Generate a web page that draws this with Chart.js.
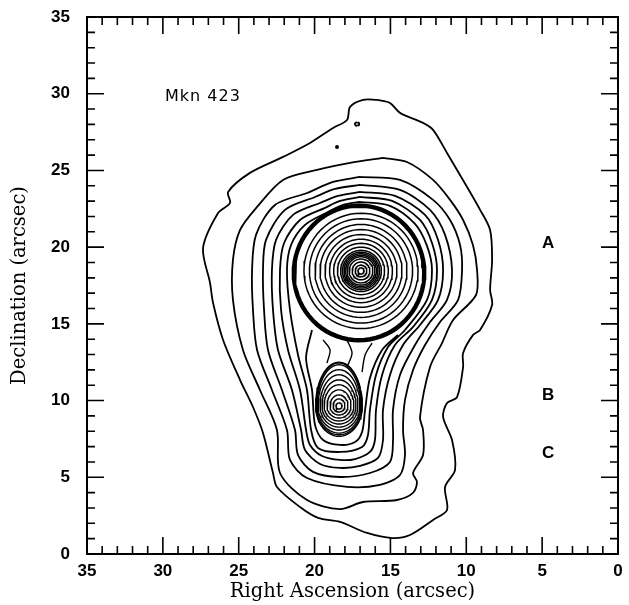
<!DOCTYPE html>
<html>
<head>
<meta charset="utf-8">
<script src="https://cdn.jsdelivr.net/npm/chart.js@4.4.1/dist/chart.umd.min.js"></script>
<style>
  html, body { margin: 0; padding: 0; background: #fff; }
  #wrap { width: 629px; height: 605px; }
</style>
</head>
<body>
<div id="wrap"><canvas id="contourChart"></canvas></div>
<script>
// axis range (arcsec), ticks every 5
const axisMin = 0;
const axisMax = 35;
const tickStep = 5;

// outer isophotes, [RA, Dec] in arcsec (outermost first)
const contour1 = [[15.88,29.60],[15.03,29.40],[14.37,28.75],[12.85,28.10],[12.19,27.64],[11.27,26.14],[9.95,23.92],[9.09,22.43],[8.43,21.12],[8.30,19.17],[8.43,17.21],[8.30,16.23],[9.09,14.60],[9.55,14.28],[10.21,13.10],[10.21,12.19],[10.61,10.23],[11.27,9.84],[11.53,8.93],[10.94,7.43],[10.74,5.48],[11.40,4.37],[11.27,2.87],[12.19,2.22],[13.71,1.24],[14.90,1.04],[16.54,1.37],[18.32,2.09],[19.77,2.35],[20.96,3.06],[22.48,4.37],[22.74,5.28],[23.40,7.89],[24.06,9.58],[24.91,11.34],[26.03,13.95],[26.69,16.36],[26.89,17.67],[27.35,19.95],[26.36,22.23],[25.57,22.88],[25.70,23.60],[24.26,24.84],[22.08,25.88],[20.30,26.79],[18.78,27.77],[17.86,28.29],[17.66,29.14],[16.80,29.60]];
const contour2 = [[15.49,25.82],[13.91,25.55],[12.19,24.38],[11.07,23.08],[10.21,21.77],[9.56,20.14],[9.29,18.51],[9.36,16.88],[10.87,15.25],[11.60,13.75],[12.39,12.19],[13.05,8.93],[12.85,8.08],[12.85,6.45],[13.51,5.28],[13.25,4.69],[13.51,3.98],[14.57,3.52],[16.81,3.39],[18.32,2.93],[20.50,3.52],[22.28,5.28],[22.48,8.08],[23.60,10.69],[24.72,13.30],[25.38,16.56],[25.38,19.17],[24.91,21.12],[23.79,22.62],[22.08,24.38],[19.84,25.03],[17.66,25.49]];
const contour3 = [[17.00,24.58],[14.37,24.38],[12.19,23.08],[11.07,21.77],[10.41,20.14],[10.28,18.51],[10.54,16.56],[11.73,15.12],[12.72,13.62],[13.51,11.99],[14.04,10.04],[14.17,8.08],[14.04,6.45],[14.37,5.15],[15.69,4.50],[17.86,4.37],[20.50,4.95],[21.62,6.13],[21.82,8.08],[22.81,10.69],[23.79,13.30],[24.06,15.91],[24.12,18.51],[23.86,20.80],[22.61,22.75],[20.50,23.53],[18.78,24.25]];
const contour4 = [[17.00,24.06],[14.37,23.73],[12.39,22.43],[11.40,20.80],[10.94,18.51],[11.27,16.56],[12.39,15.12],[13.38,13.62],[14.37,11.67],[14.83,9.39],[14.83,7.43],[15.03,6.00],[16.35,5.28],[18.32,5.02],[20.10,5.35],[21.09,6.45],[21.29,8.08],[22.15,10.69],[23.07,13.30],[23.33,15.91],[23.40,18.51],[23.20,20.47],[21.95,22.43],[19.97,23.27],[18.65,23.79]];
const contour5 = [[17.00,23.60],[14.70,23.34],[12.72,22.10],[11.86,20.47],[11.53,18.51],[11.86,16.56],[13.05,14.93],[14.17,13.62],[15.03,11.67],[15.49,9.39],[15.49,7.43],[15.82,6.26],[17.00,5.74],[18.32,5.61],[19.64,5.87],[20.63,6.78],[20.89,8.08],[21.49,10.69],[22.41,13.30],[22.74,15.91],[22.81,18.51],[22.54,20.47],[21.42,22.10],[19.64,22.88],[18.45,23.34]];
const contour6 = [[17.00,23.27],[14.89,23.01],[13.05,21.77],[12.26,20.27],[11.93,18.51],[12.26,16.56],[13.51,14.80],[14.70,13.62],[15.55,11.67],[15.95,9.39],[16.02,7.43],[16.35,6.65],[17.33,6.19],[18.32,6.13],[19.51,6.39],[20.30,7.11],[20.56,8.08],[20.96,10.69],[21.75,13.30],[22.21,15.91],[22.28,18.51],[22.01,20.27],[20.96,21.77],[19.31,22.56],[18.32,23.01]];
const contour7 = [[17.00,22.95],[15.03,22.69],[13.38,21.51],[12.59,20.08],[12.26,18.51],[12.59,16.56],[14.04,14.60],[15.16,13.49],[15.95,11.67],[16.35,9.39],[16.48,7.76],[16.87,6.98],[18.32,6.65],[19.77,6.91],[20.23,8.08],[20.50,10.69],[21.09,12.97],[21.62,15.91],[21.82,18.51],[21.55,20.14],[20.63,21.45],[19.11,22.29],[18.12,22.75]];

// contour that wraps knot B and runs up into the thick ring (open)
const envelopeB = [[20.17,14.60],[20.56,12.78],[20.17,10.69],[19.97,8.41],[19.44,7.43],[18.32,7.11],[17.33,7.30],[16.87,7.95],[16.67,9.39],[16.35,11.47],[15.55,13.30],[14.50,14.28]];

// wiggly isophotes in the neck between A and B (open)
const neck1 = [[19.18,12.45],[18.98,13.30],[19.44,13.95]];
const neck2 = [[17.86,12.19],[17.53,13.10],[17.86,13.95]];
const neck3 = [[16.87,11.86],[16.67,12.97],[16.21,13.75]];

// nucleus A: centre and ring radii (arcsec)
const centreA = [16.94, 18.45];
const ringRadiiA = [0.2, 0.38, 0.58, 0.78, 0.92, 1.02, 1.12, 1.22, 1.34, 1.55, 1.8, 2.07, 2.37, 2.7, 3.03, 3.4, 3.76];
const thickRingCentre = [17.07, 18.32];
const thickRingRadii = [4.22, 4.3, 4.38];

// knot B: centre and ring half-widths / top / bottom extents (arcsec)
const centreB = [18.39, 9.65];
const ringHalfWidthB = [0.2, 0.39, 0.59, 0.79, 0.98, 1.12, 1.25, 1.38, 1.44, 1.5, 1.54];
const ringTopB = [0.2, 0.46, 0.72, 1.05, 1.38, 1.7, 2.03, 2.36, 2.69, 2.8, 2.85];
const ringBottomB = [0.2, 0.39, 0.59, 0.79, 0.98, 1.18, 1.38, 1.57, 1.77, 1.88, 1.98];

// small isolated blob north of the galaxy
const blobCentre = [17.20, 28.03];
const blobSize = [0.15, 0.1];
const specks = [[18.52, 26.53]];

const toPts = arr => arr.map(p => ({ x: p[0], y: p[1] }));
const closed = arr => toPts(arr.concat([arr[0]]));

function ring(cx, cy, rx, rTop, rBottom) {
  const pts = [];
  for (let i = 0; i <= 72; i++) {
    const a = i / 72 * 2 * Math.PI;
    const c = Math.cos(a);
    pts.push({ x: cx + rx * Math.sin(a), y: cy + (c > 0 ? rTop : rBottom) * c });
  }
  return pts;
}

function line(data, width, tension) {
  return {
    data: data,
    showLine: true,
    borderColor: '#000',
    borderWidth: width,
    pointRadius: 0,
    tension: tension,
    fill: false
  };
}

const datasets = [];
[contour1, contour2, contour3, contour4, contour5, contour6, contour7].forEach(c => {
  datasets.push(line(closed(c), 1.8, 0.3));
});
datasets.push(line(toPts(envelopeB), 1.8, 0.3));
[neck1, neck2, neck3].forEach(n => datasets.push(line(toPts(n), 1.4, 0.3)));
ringRadiiA.forEach(r => datasets.push(line(ring(centreA[0], centreA[1], r, r, r), 1.5, 0)));
thickRingRadii.forEach(r => datasets.push(line(ring(thickRingCentre[0], thickRingCentre[1], r, r * 1.02, r * 1.02), 2, 0)));
ringHalfWidthB.forEach((w, i) => {
  datasets.push(line(ring(centreB[0], centreB[1], w, ringTopB[i], ringBottomB[i]), 1.4, 0));
});
datasets.push(line(ring(blobCentre[0], blobCentre[1], blobSize[0], blobSize[1], blobSize[1]), 1.6, 0));
datasets.push({
  data: toPts(specks),
  showLine: false,
  pointRadius: 2,
  pointBackgroundColor: '#000',
  pointBorderWidth: 0
});

// inward ticks on all four sides, frame, and the text annotations
const frameTicks = {
  id: 'frameTicks',
  afterDraw(chart) {
    const { ctx, chartArea: a, scales: { x, y } } = chart;
    ctx.save();
    ctx.strokeStyle = '#000';
    ctx.lineWidth = 2;
    ctx.strokeRect(a.left, a.top, a.right - a.left, a.bottom - a.top);
    ctx.lineWidth = 1.6;
    ctx.beginPath();
    for (let v = axisMin; v <= axisMax; v++) {
      const len = v % tickStep === 0 ? 17 : 8;
      const px = x.getPixelForValue(v);
      ctx.moveTo(px, a.bottom); ctx.lineTo(px, a.bottom - len);
      ctx.moveTo(px, a.top); ctx.lineTo(px, a.top + len);
      const py = y.getPixelForValue(v);
      ctx.moveTo(a.left, py); ctx.lineTo(a.left + len, py);
      ctx.moveTo(a.right, py); ctx.lineTo(a.right - len, py);
    }
    ctx.stroke();

    ctx.fillStyle = '#000';
    ctx.textBaseline = 'middle';
    ctx.font = '16px "DejaVu Sans"';
    ctx.letterSpacing = '1px';
    ctx.textAlign = 'left';
    ctx.fillText('Mkn 423', x.getPixelForValue(29.86), y.getPixelForValue(29.79));
    ctx.letterSpacing = '0px';
    ctx.font = 'bold 17px "Liberation Sans"';
    ctx.textAlign = 'center';
    ctx.fillText('A', x.getPixelForValue(4.61), y.getPixelForValue(20.27));
    ctx.fillText('B', x.getPixelForValue(4.61), y.getPixelForValue(10.37));
    ctx.fillText('C', x.getPixelForValue(4.61), y.getPixelForValue(6.58));
    ctx.restore();
  }
};

const tickFont = { family: 'Liberation Sans', size: 17, weight: 'bold' };
const titleFont = { family: 'DejaVu Serif', size: 19.5 };

const ctx = document.getElementById('contourChart').getContext('2d');
const contourChart = new Chart(ctx, {
  type: 'scatter',
  data: { datasets: datasets },
  plugins: [frameTicks],
  options: {
    animation: false,
    responsive: true,
    maintainAspectRatio: false,
    events: [],
    layout: { padding: { top: 17, right: 11, left: 0, bottom: 0 } },
    plugins: {
      legend: { display: false },
      tooltip: { enabled: false }
    },
    scales: {
      x: {
        type: 'linear',
        min: axisMin,
        max: axisMax,
        reverse: true,
        ticks: { stepSize: tickStep, color: '#000', font: tickFont, padding: 7, maxRotation: 0 },
        grid: { display: false, drawTicks: false },
        border: { display: false },
        title: { display: true, text: 'Right Ascension (arcsec)', color: '#000', font: titleFont, padding: { top: 1, bottom: 1 } },
        afterFit: function(scale) {
          scale.height = 51;
          scale.paddingLeft = 0;
          scale.paddingRight = 0;
        }
      },
      y: {
        type: 'linear',
        min: axisMin,
        max: axisMax,
        ticks: { stepSize: tickStep, color: '#000', font: tickFont, padding: 17 },
        grid: { display: false, drawTicks: false },
        border: { display: false },
        title: { display: true, text: 'Declination (arcsec)', color: '#000', font: titleFont, padding: { top: 8, bottom: 8 } },
        afterFit: function(scale) {
          scale.width = 87;
          scale.paddingTop = 0;
          scale.paddingBottom = 0;
        }
      }
    }
  }
});
</script>
</body>
</html>
